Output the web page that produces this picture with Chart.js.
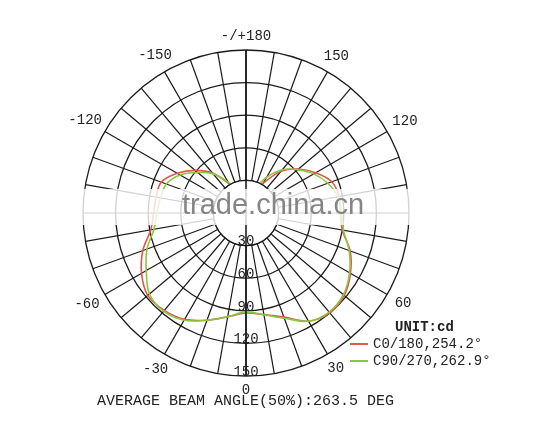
<!DOCTYPE html>
<html>
<head>
<meta charset="utf-8">
<script src="https://cdn.jsdelivr.net/npm/chart.js@4.4.1/dist/chart.umd.min.js"></script>
<style>
  html, body { margin: 0; padding: 0; background: #fff; }
  #wrap { position: relative; width: 542px; height: 433px; overflow: hidden; }
  #polar { position: absolute; left: 0; top: 0; }
  .txt { position: absolute; font-family: "Liberation Mono", "DejaVu Sans Mono", monospace; color: #222; white-space: nowrap; }
  .key { position: absolute; height: 2px; width: 18px; }
  #band { position: absolute; left: 80px; top: 189px; width: 334px; height: 36px; background: rgba(255,255,255,0.8); }
  #mark { position: absolute; left: 182px; top: 188px; font: 29px "Liberation Sans", Arial, sans-serif; color: rgba(120,120,120,0.9); }
</style>
</head>
<body>
<div id="wrap">
  <canvas id="polar" width="542" height="433"></canvas>
  <div id="band"></div>
  <div id="mark">trade.china.cn</div>
  <div class="txt" style="left:395px;top:319px;font-size:14px;font-weight:bold;">UNIT:cd</div>
  <div class="key" style="left:350px;top:343px;background:#e0574e;"></div>
  <div class="txt" style="left:373px;top:336px;font-size:14px;">C0/180,254.2°</div>
  <div class="key" style="left:350px;top:360px;background:#8cc63f;"></div>
  <div class="txt" style="left:373px;top:353px;font-size:14px;">C90/270,262.9°</div>
  <div class="txt" style="left:97px;top:393px;font-size:15px;">AVERAGE BEAM ANGLE(50%):263.5 DEG</div>
</div>
<script>
// angles in drawing order: bottom (0) then clockwise on screen (negative side first)
const angles = [0, -10, -20, -30, -40, -50, -60, -70, -80, -90, -100, -110, -120, -130, -140, -150, -160, -170,
  180, 170, 160, 150, 140, 130, 120, 110, 100, 90, 80, 70, 60, 50, 40, 30, 20, 10];

// C0/180 intensity (cd)
const c0Values = [92, 97, 105, 113, 117, 118, 111, 101, 89, 85, 84, 83, 73, 61, 48, 31, 21, 17,
  15, 17, 22, 32, 50, 63, 74, 84, 87, 87, 90, 102, 111, 118, 120, 115, 102, 95];

// C90/270 intensity (cd)
const c90Values = [91, 97, 105, 114, 118, 116, 106, 97, 86, 82, 80, 78, 70, 58, 47, 33, 22, 17,
  15, 18, 24, 38, 52, 62, 72, 80, 86, 88, 91, 101, 110, 117, 119, 115, 103, 95];

const radialTicks = [30, 60, 90, 120, 150];

const lineColor = '#1a1a1a';

function angleText(a) {
  if (a === 180) return '-/+180';
  if (a % 30 !== 0 || Math.abs(a) === 90) return '';
  return String(a);
}

const polarDecor = {
  id: 'polarDecor',
  afterDatasetsDraw(chart) {
    const s = chart.scales.r;
    const ctx = chart.ctx;
    const inner = s.getDistanceFromCenterForValue(radialTicks[0]);
    const outer = s.drawingArea;

    ctx.save();
    // hollow middle
    ctx.beginPath();
    ctx.arc(s.xCenter, s.yCenter, inner, 0, Math.PI * 2);
    ctx.fillStyle = '#fff';
    ctx.fill();
    ctx.strokeStyle = lineColor;
    ctx.lineWidth = 1.3;
    ctx.stroke();

    // vertical axis 0 .. 180
    const top = s.getPointPosition(angles.indexOf(180), outer);
    const bottom = s.getPointPosition(0, outer);
    ctx.beginPath();
    ctx.moveTo(top.x, top.y);
    ctx.lineTo(bottom.x, bottom.y);
    ctx.lineWidth = 1.5;
    ctx.strokeStyle = '#111';
    ctx.stroke();

    ctx.fillStyle = '#222';
    ctx.font = '14px "Liberation Mono", "DejaVu Sans Mono", monospace';
    ctx.textAlign = 'center';
    ctx.textBaseline = 'middle';

    // radial values along the 0 direction
    radialTicks.forEach(v => {
      const d = s.getDistanceFromCenterForValue(v);
      ctx.fillText(String(v), s.xCenter, s.yCenter + d - 4);
    });

    // angle labels round the outside
    angles.forEach((a, i) => {
      const t = angleText(a);
      if (!t) return;
      const w = ctx.measureText(t).width;
      const extra = 14 + Math.abs(Math.sin(a * Math.PI / 180)) * w * 0.3;
      const p = s.getPointPosition(i, outer + extra);
      ctx.fillText(t, p.x, p.y);
    });
    ctx.restore();
  }
};

new Chart(document.getElementById('polar'), {
  type: 'radar',
  data: {
    labels: angles.map(String),
    datasets: [
      {
        label: 'C90/270',
        data: c90Values,
        borderColor: '#8cc63f',
        borderWidth: 1.6,
        pointRadius: 0,
        fill: false,
        tension: 0.35
      },
      {
        label: 'C0/180',
        data: c0Values,
        borderColor: '#e0574e',
        borderWidth: 1.6,
        pointRadius: 0,
        fill: false,
        tension: 0.35
      }
    ]
  },
  options: {
    responsive: false,
    animation: false,
    layout: { padding: { left: 83, right: 133, top: 50, bottom: 57 } },
    plugins: {
      legend: { display: false },
      tooltip: { enabled: false }
    },
    scales: {
      r: {
        min: 0,
        max: 150,
        startAngle: 180,
        ticks: { display: false, stepSize: 30 },
        grid: { circular: true, color: lineColor, lineWidth: 1.3 },
        angleLines: { color: lineColor, lineWidth: 1.2 },
        pointLabels: { display: false }
      }
    }
  },
  plugins: [polarDecor]
});
</script>
</body>
</html>
